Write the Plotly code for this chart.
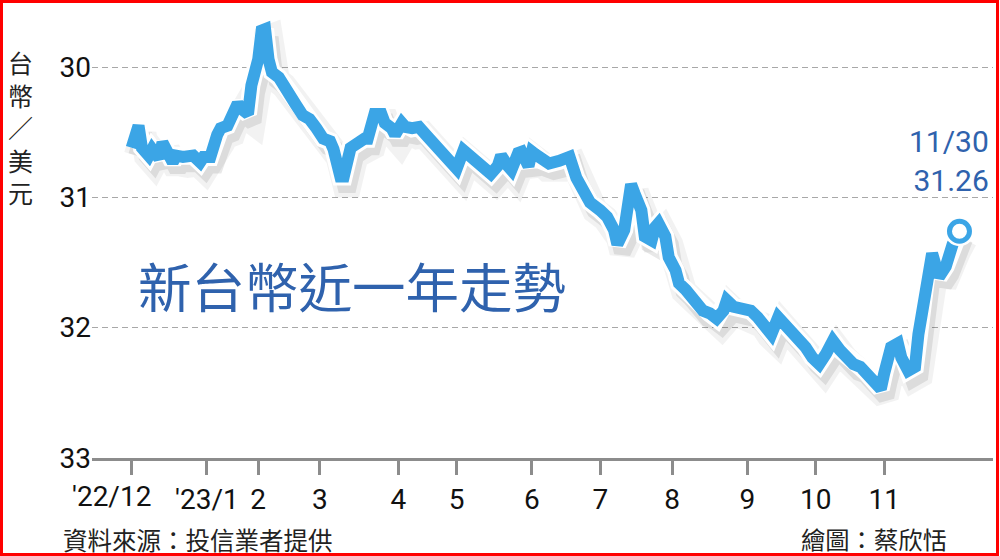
import plotly.graph_objects as go

# trading-day index since 2022-12-01 and TWD per USD
days = [0, 2, 3, 5, 6, 8, 9, 11, 12, 13, 15, 18, 20, 21, 23, 25, 26, 28, 29, 31,
        32, 34, 35, 37, 38, 39, 40, 41, 43, 45, 46, 48, 50, 52, 54, 56, 58, 59, 61, 62,
        64, 66, 68, 69, 71, 73, 74, 76, 77, 79, 80, 82, 84, 86, 89, 92, 94, 95, 97, 99,
        101, 103, 105, 107, 108, 110, 111, 113, 114, 116, 117, 118, 120, 122, 125, 128, 130, 132, 134, 137,
        139, 141, 142, 144, 145, 146, 147, 149, 150, 152, 153, 154, 156, 157, 159, 160, 162, 163, 165, 167,
        169, 171, 173, 174, 176, 178, 181, 183, 185, 187, 189, 191, 193, 195, 197, 199, 201, 203, 205, 207,
        209, 211, 213, 215, 217, 219, 220, 222, 224, 225, 227, 229, 230, 232, 233, 234, 236, 238, 240, 242]
rates = [30.62, 30.45, 30.62, 30.68, 30.63, 30.70, 30.58, 30.68, 30.73, 30.68, 30.69, 30.68, 30.73, 30.69, 30.69, 30.52, 30.47, 30.45, 30.37, 30.28,
         30.32, 30.36, 30.14, 29.94, 29.72, 29.71, 29.94, 30.04, 30.08, 30.15, 30.22, 30.29, 30.37, 30.40, 30.47, 30.55, 30.57, 30.63, 30.84, 30.84,
         30.62, 30.57, 30.55, 30.55, 30.36, 30.36, 30.43, 30.47, 30.52, 30.43, 30.46, 30.47, 30.46, 30.52, 30.61, 30.68, 30.74, 30.78, 30.64, 30.69,
         30.72, 30.77, 30.82, 30.76, 30.68, 30.76, 30.79, 30.66, 30.65, 30.76, 30.65, 30.67, 30.72, 30.74, 30.72, 30.69, 30.85, 30.97, 31.04, 31.10,
         31.15, 31.25, 31.36, 31.25, 31.02, 30.90, 30.97, 31.10, 31.30, 31.33, 31.23, 31.20, 31.30, 31.46, 31.56, 31.66, 31.71, 31.74, 31.82, 31.87,
         31.89, 31.93, 31.87, 31.79, 31.84, 31.85, 31.87, 31.92, 32.00, 32.05, 31.92, 31.97, 32.02, 32.10, 32.15, 32.23, 32.28, 32.20, 32.10, 32.17,
         32.23, 32.28, 32.30, 32.35, 32.40, 32.47, 32.35, 32.15, 32.12, 32.23, 32.33, 32.30, 32.05, 31.71, 31.46, 31.43, 31.61, 31.53, 31.36, 31.26]

tick_days = [0, 22, 37, 55, 78, 95, 117, 137, 158, 180, 200, 220]
tick_labels = ["'22/12", "'23/1", "2", "3", "4", "5", "6", "7", "8", "9", "10", "11"]
y_ticks = [30, 31, 32, 33]

last_label = "11/30<br>31.26"
title_text = "新台幣近一年走勢"
y_title = "台<br>幣<br>／<br>美<br>元"
source_text = "資料來源：投信業者提供"
credit_text = "繪圖：蔡欣恬"

W, H = 1000, 556
ML, MR, MT, MB = 92, 7, 15, 98
PW, PH = W - ML - MR, H - MT - MB
XR = [-11.6, 251.8]
YR = [33, 29.601]
px_per_day = PW / (XR[1] - XR[0])
px_per_unit = PH / (YR[0] - YR[1])

def px(xp):
    return (xp - ML) / PW

def py(yp):
    return (H - MB - yp) / PH

BLUE = "#3ba5e6"
TEXT_BLUE = "#2f62ad"
FONT = "Roboto, Noto Sans CJK TC, sans-serif"
CJK = "Noto Sans CJK TC, sans-serif"
TICK_FONT = dict(family=FONT, size=28, color="#111")

fig = go.Figure()

# invisible trace that keeps the base axes (ticks, grid) alive
fig.add_trace(go.Scatter(x=[days[0]], y=[rates[0]], mode="markers",
                         marker=dict(size=1, color="rgba(0,0,0,0)"), hoverinfo="skip"))

# soft shadow, drawn on offset overlay axes (x2/y2)
dx, dy = 5, 8
for w, a in [(26, 0.05), (17, 0.09)]:
    fig.add_trace(go.Scatter(x=days, y=rates, mode="lines", xaxis="x2", yaxis="y2",
                             line=dict(color=f"rgba(0,0,0,{a})", width=w),
                             hoverinfo="skip"))

# main line on x3/y3 overlay (same scale as x/y) so it sits above the shadow
fig.add_trace(go.Scatter(x=days, y=rates, mode="lines", xaxis="x3", yaxis="y3",
                         line=dict(color="white", width=18), hoverinfo="skip"))
fig.add_trace(go.Scatter(x=days, y=rates, mode="lines", xaxis="x3", yaxis="y3",
                         line=dict(color=BLUE, width=12)))
fig.add_trace(go.Scatter(x=[days[-1]], y=[rates[-1]], mode="markers", xaxis="x3", yaxis="y3",
                         marker=dict(size=30, color="white")))
fig.add_trace(go.Scatter(x=[days[-1]], y=[rates[-1]], mode="markers", xaxis="x3", yaxis="y3",
                         marker=dict(size=20, color="white", line=dict(color=BLUE, width=5))))

# first tick label sits left of its tick in the original; drawn as a separate text
shown_ticks = [""] + tick_labels[1:]

fig.update_layout(
    width=W, height=H,
    margin=dict(l=ML, r=MR, t=MT, b=MB, autoexpand=False),
    paper_bgcolor="white", plot_bgcolor="white",
    showlegend=False,
    xaxis=dict(range=XR, tickvals=tick_days, ticktext=shown_ticks, tickangle=0,
               automargin=False,
               ticks="outside", ticklen=14, tickwidth=2.5, tickcolor="#8c8c8c",
               showline=True, linecolor="#8c8c8c", linewidth=3,
               showgrid=False, zeroline=False, tickfont=TICK_FONT),
    yaxis=dict(range=YR, tickvals=y_ticks, ticks="", showline=False, zeroline=False,
               automargin=False,
               showgrid=True, gridcolor="#a8a8a8", gridwidth=1.2, griddash="6px,4px",
               tickfont=TICK_FONT),
    xaxis2=dict(range=[XR[0] - dx / px_per_day, XR[1] - dx / px_per_day],
                overlaying="x", visible=False),
    yaxis2=dict(range=[YR[0] - dy / px_per_unit, YR[1] - dy / px_per_unit],
                overlaying="y", visible=False),
    xaxis3=dict(range=XR, overlaying="x", visible=False),
    yaxis3=dict(range=YR, overlaying="y", visible=False),
)

fig.add_annotation(x=px(111.5), y=py(496), xref="paper", yref="paper",
                   text=tick_labels[0], showarrow=False, xanchor="center", yanchor="middle",
                   font=TICK_FONT)
fig.add_annotation(x=px(352), y=py(284), xref="paper", yref="paper",
                   text=title_text, showarrow=False, xanchor="center", yanchor="middle",
                   font=dict(family=CJK, size=53.5, color=TEXT_BLUE))
fig.add_annotation(x=px(991), y=py(161), xref="paper", yref="paper",
                   text=last_label, showarrow=False, xanchor="right", yanchor="middle",
                   align="right", font=dict(family=FONT, size=30, color=TEXT_BLUE))
fig.add_annotation(x=px(20), y=py(127), xref="paper", yref="paper",
                   text=y_title, showarrow=False, xanchor="center", yanchor="middle",
                   font=dict(family=CJK, size=25, color="#222"))
fig.add_annotation(x=px(61), y=py(539), xref="paper", yref="paper",
                   text=source_text, showarrow=False, xanchor="left", yanchor="middle",
                   font=dict(family=CJK, size=24.5, color="#222"))
fig.add_annotation(x=px(949), y=py(538), xref="paper", yref="paper",
                   text=credit_text, showarrow=False, xanchor="right", yanchor="middle",
                   font=dict(family=CJK, size=24.3, color="#222"))

# red frame around the whole picture
fig.add_shape(type="rect", xref="paper", yref="paper",
              x0=px(1.5), x1=px(997.5), y0=py(554.5), y1=py(1.5),
              line=dict(color="#ff0000", width=3), fillcolor="rgba(0,0,0,0)")

fig.write_html("out.html", post_script="document.body.style.margin='0';",
               config={"displayModeBar": False})
